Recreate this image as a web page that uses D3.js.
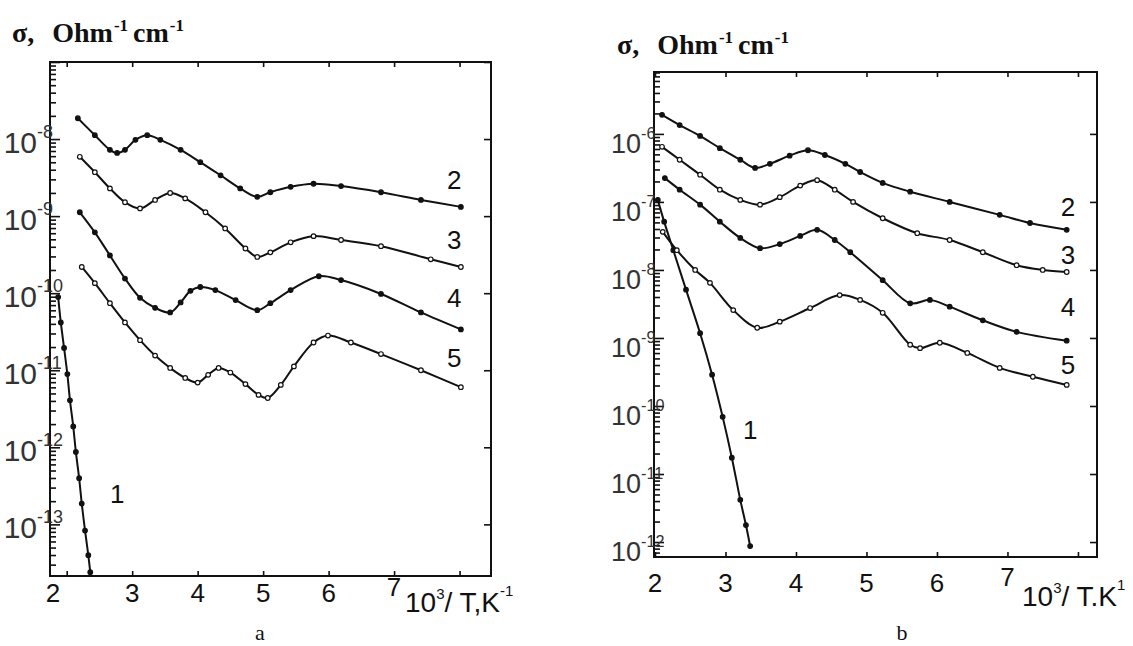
<!DOCTYPE html>
<html>
<head>
<meta charset="utf-8">
<script src="https://cdn.jsdelivr.net/npm/d3@7/dist/d3.min.js"></script>
<style>
  body { margin: 0; background: #fff; }
  text { font-family: "Liberation Sans", Arial, sans-serif; }
  text.serif { font-family: "Liberation Serif", "Times New Roman", serif; }
</style>
</head>
<body>
<svg width="1133" height="646"></svg>
<script>
// x = 10^3/T, values are log10(sigma)
const xTickLabels = [2, 3, 4, 5, 6, 7]

// panel a
const a1X = [1.87, 1.91, 1.96, 2.01, 2.05, 2.10, 2.14, 2.19, 2.23, 2.28, 2.33, 2.36]
const a1Y = [-10.05, -10.38, -10.71, -11.05, -11.39, -11.73, -12.06, -12.40, -12.73, -13.08, -13.40, -13.62]
const a2X = [2.17, 2.43, 2.66, 2.77, 2.89, 3.05, 3.23, 3.43, 3.74, 4.04, 4.35, 4.65, 4.91, 5.11, 5.42, 5.77, 6.19, 6.80, 7.41, 8.02]
const a2Y = [-7.73, -7.95, -8.14, -8.18, -8.14, -8.01, -7.95, -8.01, -8.14, -8.30, -8.47, -8.64, -8.75, -8.69, -8.62, -8.58, -8.61, -8.69, -8.79, -8.88]
const a3X = [2.20, 2.43, 2.66, 2.89, 3.12, 3.35, 3.58, 3.81, 4.12, 4.42, 4.73, 4.91, 5.11, 5.42, 5.77, 6.19, 6.80, 7.56, 8.02]
const a3Y = [-8.23, -8.43, -8.64, -8.82, -8.90, -8.79, -8.70, -8.77, -8.95, -9.16, -9.42, -9.53, -9.47, -9.34, -9.26, -9.31, -9.39, -9.56, -9.66]
const a4X = [2.20, 2.43, 2.66, 2.89, 3.12, 3.35, 3.58, 3.74, 3.89, 4.04, 4.27, 4.58, 4.91, 5.11, 5.42, 5.85, 6.19, 6.80, 7.41, 8.02]
const a4Y = [-8.95, -9.21, -9.51, -9.81, -10.06, -10.19, -10.25, -10.12, -9.97, -9.92, -9.96, -10.09, -10.22, -10.13, -9.96, -9.78, -9.83, -10.01, -10.25, -10.47]
const a5X = [2.23, 2.43, 2.66, 2.89, 3.12, 3.35, 3.58, 3.81, 4.00, 4.16, 4.32, 4.50, 4.73, 4.93, 5.07, 5.27, 5.47, 5.77, 5.99, 6.34, 6.80, 7.41, 8.02]
const a5Y = [-9.66, -9.87, -10.13, -10.38, -10.61, -10.81, -10.97, -11.10, -11.16, -11.06, -10.97, -11.03, -11.18, -11.32, -11.36, -11.19, -10.95, -10.64, -10.55, -10.64, -10.79, -11.00, -11.22]
const aLabels = ['1', '2', '3', '4', '5']
const aLabelX = [2.77, 7.92, 7.92, 7.92, 7.92]
const aLabelY = [-12.60, -8.53, -9.31, -10.06, -10.84]

// panel b
const b1X = [2.04, 2.13, 2.26, 2.44, 2.64, 2.81, 2.96, 3.09, 3.21, 3.29, 3.35]
const b1Y = [-6.97, -7.29, -7.71, -8.29, -8.93, -9.54, -10.16, -10.76, -11.38, -11.75, -12.06]
const b2X = [2.10, 2.35, 2.64, 2.92, 3.21, 3.42, 3.63, 3.91, 4.17, 4.41, 4.70, 4.91, 5.23, 5.62, 6.18, 6.89, 7.32, 7.84]
const b2Y = [-5.72, -5.87, -6.03, -6.21, -6.38, -6.50, -6.44, -6.32, -6.24, -6.31, -6.44, -6.56, -6.72, -6.85, -7.00, -7.19, -7.31, -7.41]
const b3X = [2.10, 2.35, 2.64, 2.92, 3.21, 3.49, 3.77, 4.06, 4.30, 4.55, 4.81, 5.23, 5.72, 6.18, 6.65, 7.13, 7.50, 7.84]
const b3Y = [-6.19, -6.38, -6.60, -6.82, -6.97, -7.04, -6.93, -6.76, -6.68, -6.82, -7.00, -7.24, -7.46, -7.56, -7.74, -7.93, -8.00, -8.03]
const b4X = [2.14, 2.35, 2.64, 2.92, 3.21, 3.49, 3.77, 4.06, 4.30, 4.55, 4.77, 5.23, 5.62, 5.90, 6.18, 6.65, 7.13, 7.84]
const b4Y = [-6.65, -6.82, -7.04, -7.29, -7.53, -7.68, -7.62, -7.50, -7.41, -7.56, -7.74, -8.15, -8.49, -8.44, -8.54, -8.74, -8.91, -9.04]
const b5X = [2.11, 2.31, 2.57, 2.78, 3.11, 3.45, 3.77, 4.20, 4.62, 4.91, 5.23, 5.62, 5.76, 6.04, 6.43, 6.89, 7.36, 7.84]
const b5Y = [-7.44, -7.71, -8.00, -8.19, -8.59, -8.85, -8.76, -8.56, -8.37, -8.44, -8.63, -9.10, -9.15, -9.07, -9.22, -9.44, -9.57, -9.69]
const bLabels = ['1', '2', '3', '4', '5']
const bLabelX = [3.35, 7.86, 7.86, 7.86, 7.86]
const bLabelY = [-10.35, -7.07, -7.78, -8.54, -9.40]

const openSeries = [false, false, true, false, true]

function zip(xs, ys) {
    return xs.map((v, i) => [v, ys[i]])
}

const panels = [
    {
        xDomain: [1.745, 8.48], yLo: -13.67, yHi: -7,
        left: 50, right: 491, top: 62, bottom: 576,
        series: [zip(a1X, a1Y), zip(a2X, a2Y), zip(a3X, a3Y), zip(a4X, a4Y), zip(a5X, a5Y)],
        labels: aLabels, labelX: aLabelX, labelY: aLabelY,
        title: [12, 42], tickLabelY: 602, firstTickAtEdge: true,
        yLabelSize: 30, yLabelDy: 3, axisTitle: ['10', '3', '/ T,K', '-1'], axisTitleX: 405, axisTitleY: 612,
        caption: 'a', captionX: 260
    },
    {
        xDomain: [1.986, 8.27], yLo: -12.22, yHi: -5.09,
        left: 654, right: 1097, top: 72, bottom: 557,
        series: [zip(b1X, b1Y), zip(b2X, b2Y), zip(b3X, b3Y), zip(b4X, b4Y), zip(b5X, b5Y)],
        labels: bLabels, labelX: bLabelX, labelY: bLabelY,
        title: [617, 54], tickLabelY: 592, firstTickAtEdge: false,
        yLabelSize: 27, yLabelDy: 9, axisTitle: ['10', '3', '/ T.K', '1'], axisTitleX: 1022, axisTitleY: 606,
        caption: 'b', captionX: 902
    }
]

const svg = d3.select('svg')

function drawPanel(p) {
    const x = d3.scaleLinear().domain(p.xDomain).range([p.left, p.right])
    const y = d3.scaleLog().domain([10 ** p.yLo, 10 ** p.yHi]).range([p.bottom, p.top])
    const g = svg.append('g')

    // minor + decade ticks on the left axis
    const decades = d3.range(Math.ceil(p.yLo), Math.floor(p.yHi) + 1)
    const minors = []
    for (let k = Math.floor(p.yLo); k < p.yHi; k++) {
        for (let m = 2; m < 10; m++) {
            const v = m * 10 ** k
            if (v > 10 ** p.yLo && v < 10 ** p.yHi) minors.push(v)
        }
    }
    const noDomain = sel => sel.select('.domain').remove()
    g.append('g').attr('transform', `translate(${p.left},0)`)
        .call(d3.axisRight(y).tickValues(minors).tickSize(6).tickFormat(''))
        .call(noDomain)
    g.append('g').attr('transform', `translate(${p.left},0)`)
        .call(d3.axisRight(y).tickValues(decades.map(k => 10 ** k)).tickSize(10).tickFormat(''))
        .call(noDomain)
    g.append('g').attr('transform', `translate(${p.right},0)`)
        .call(d3.axisLeft(y).tickValues(decades.map(k => 10 ** k)).tickSize(7).tickFormat(''))
        .call(noDomain)
    const xTickVals = d3.range(Math.ceil(p.xDomain[0]), Math.floor(p.xDomain[1]) + 1)
    g.append('g').attr('transform', `translate(0,${p.top})`)
        .call(d3.axisBottom(x).tickValues(xTickVals).tickSize(5).tickFormat(''))
        .call(noDomain)
    g.append('g').attr('transform', `translate(0,${p.bottom})`)
        .call(d3.axisTop(x).tickValues(xTickVals).tickSize(5).tickFormat(''))
        .call(noDomain)
    g.selectAll('.tick line').attr('stroke', '#111').attr('stroke-width', 1.6)

    g.append('rect')
        .attr('x', p.left).attr('y', p.top)
        .attr('width', p.right - p.left).attr('height', p.bottom - p.top)
        .attr('fill', 'none').attr('stroke', '#111').attr('stroke-width', 2)

    // y tick labels 10^k (the decade sitting on the top edge is not labelled)
    decades.filter(k => y(10 ** k) > p.top + 20).forEach(k => {
        g.append('text')
            .attr('x', p.left - 13).attr('y', y(10 ** k) + p.yLabelDy + p.yLabelSize * 0.36)
            .attr('font-size', p.yLabelSize).attr('fill', '#333').attr('text-anchor', 'end')
            .text('10')
        g.append('text')
            .attr('x', p.left - 13).attr('y', y(10 ** k) + p.yLabelDy - p.yLabelSize * 0.15)
            .attr('font-size', p.yLabelSize * 0.6).attr('fill', '#333')
            .text('-' + (-k))
    })

    // x tick labels
    xTickLabels.forEach((v, i) => {
        const px = (i === 0 && p.firstTickAtEdge) ? x(p.xDomain[0]) + 3 : x(v)
        g.append('text')
            .attr('x', px).attr('y', p.tickLabelY - (v === 7 ? 6 : 0))
            .attr('font-size', 26).attr('text-anchor', 'middle').attr('fill', '#111')
            .text(v)
    })

    // axis title
    const at = g.append('text')
        .attr('x', p.axisTitleX).attr('y', p.axisTitleY)
        .attr('font-size', 28).attr('fill', '#111')
    at.append('tspan').text(p.axisTitle[0])
    at.append('tspan').attr('font-size', 15).attr('dy', -13).text(p.axisTitle[1])
    at.append('tspan').attr('dy', 13).text(p.axisTitle[2])
    at.append('tspan').attr('font-size', 15).attr('dy', -16).text(p.axisTitle[3])

    // sigma title
    const tt = g.append('text')
        .attr('class', 'serif')
        .attr('x', p.title[0]).attr('y', p.title[1])
        .attr('font-size', 28)
        .attr('font-weight', 'bold').attr('fill', '#111')
    tt.append('tspan').text('σ,')
    tt.append('tspan').attr('dx', 18).text('Ohm')
    tt.append('tspan').attr('font-size', 17).attr('dx', 1).attr('dy', -11).text('-1')
    tt.append('tspan').attr('dx', 5).attr('dy', 11).text('cm')
    tt.append('tspan').attr('font-size', 17).attr('dx', 1).attr('dy', -11).text('-1')

    // caption
    g.append('text')
        .attr('class', 'serif')
        .attr('x', p.captionX).attr('y', 640)
        .attr('font-size', 22)
        .attr('text-anchor', 'middle').attr('fill', '#111')
        .text(p.caption)

    // curves
    const line = d3.line()
        .x(d => x(d[0]))
        .y(d => y(10 ** d[1]))
        .curve(d3.curveCatmullRom.alpha(0.5))

    p.series.forEach((s, i) => {
        g.append('path')
            .datum(s)
            .attr('d', line)
            .attr('fill', 'none').attr('stroke', '#111').attr('stroke-width', 2)
        g.append('g').selectAll('circle')
            .data(s)
            .enter().append('circle')
            .attr('cx', d => x(d[0]))
            .attr('cy', d => y(10 ** d[1]))
            .attr('r', 2.3)
            .attr('fill', openSeries[i] ? '#fff' : '#111')
            .attr('stroke', '#111').attr('stroke-width', 1.2)
    })

    // curve numbers
    g.append('g').selectAll('text')
        .data(p.labels)
        .enter().append('text')
        .attr('x', (d, i) => x(p.labelX[i]))
        .attr('y', (d, i) => y(10 ** p.labelY[i]) + 9)
        .attr('font-size', 26).attr('text-anchor', 'middle').attr('fill', '#111')
        .text(d => d)
}

panels.forEach(drawPanel)
</script>
</body>
</html>
